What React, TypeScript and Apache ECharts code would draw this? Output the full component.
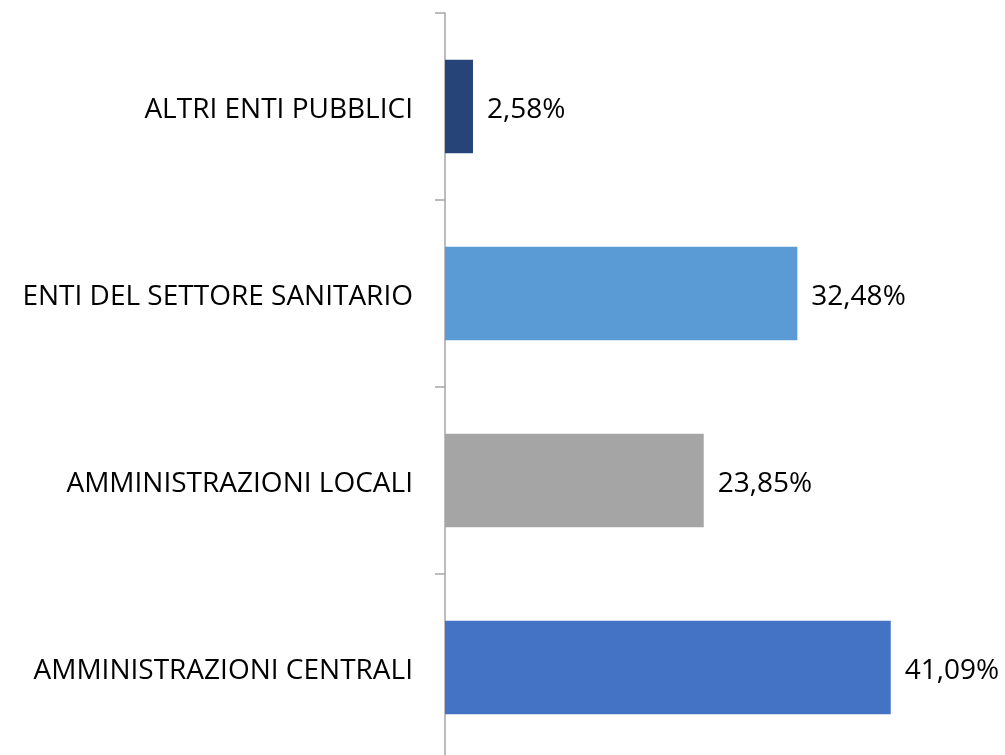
import React, { useEffect, useRef } from "react";
import * as echarts from "echarts";

const categories = [
  "AMMINISTRAZIONI CENTRALI",
  "AMMINISTRAZIONI LOCALI",
  "ENTI DEL SETTORE SANITARIO",
  "ALTRI ENTI PUBBLICI",
];
const values = [41.09, 23.85, 32.48, 2.58];
const colors = ["#4472C4", "#A5A5A5", "#5B9BD5", "#264478"];

export default function App() {
  const ref = useRef<HTMLDivElement>(null);
  useEffect(() => {
    document.body.style.margin = "0";
    const chart = echarts.init(ref.current!, null, { renderer: "svg" });
    chart.setOption({
      animation: false,
      textStyle: { fontFamily: "Open Sans" },
      grid: { left: 445, top: 13, width: 542.4, height: 748 },
      xAxis: { type: "value", min: 0, max: 50, show: false },
      yAxis: {
        type: "category",
        data: categories,
        axisLine: { show: true, lineStyle: { color: "#A6A6A6", width: 1.5 } },
        axisTick: { show: true, length: 10, lineStyle: { color: "#A6A6A6", width: 1.5 } },
        axisLabel: { color: "#000", fontSize: 28, margin: 32, fontFamily: "Open Sans" },
        splitLine: { show: false },
      },
      series: [
        {
          type: "bar",
          data: values.map((v, i) => ({ value: v, itemStyle: { color: colors[i] } })),
          barCategoryGap: "50%",
          label: {
            show: true,
            position: "right",
            distance: 14,
            color: "#000",
            fontSize: 28,
            fontFamily: "Open Sans",
            formatter: (p: any) => p.value.toFixed(2).replace(".", ",") + "%",
          },
        },
      ],
    });
    return () => chart.dispose();
  }, []);
  return (
    <div
      ref={ref}
      style={{ position: "fixed", left: 0, top: 0, width: 1005, height: 770 }}
    />
  );
}
